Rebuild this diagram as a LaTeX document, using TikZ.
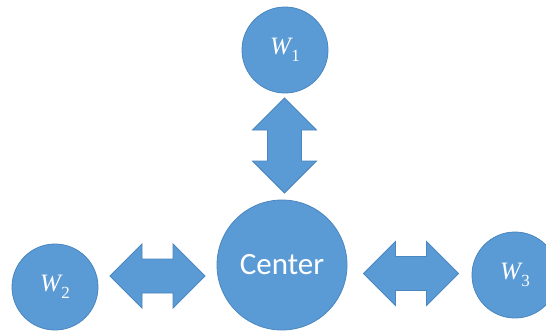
\documentclass[tikz,border=0pt]{standalone}
\usepackage{fontspec}
\setmainfont{Carlito}
\newfontfamily\mathlike{Liberation Serif}
\newcommand{\wlabel}[1]{{\mathlike\itshape W}\kern0.5pt\raisebox{-0.28em}{\mathlike\fontsize{17}{17}\selectfont #1}}
\begin{document}
\begin{tikzpicture}[x=1pt,y=-1pt,
  blobfill/.style={fill=blobblue,draw=blobedge,line width=0.8pt},
  bignode/.style={circle,blobfill,text=white,inner sep=0pt,minimum size=130pt,font=\fontsize{31}{31}\selectfont},
  smallnode/.style={circle,blobfill,text=white,inner sep=0pt,minimum size=86pt,font=\fontsize{25}{25}\selectfont},
  dblarrow/.pic={
    \path[blobfill] (-47.5,0) -- (-15.5,-32) -- (-15.5,-17) -- (15.5,-17) -- (15.5,-32)
      -- (47.5,0) -- (15.5,32) -- (15.5,17) -- (-15.5,17) -- (-15.5,32) -- cycle;
  }]
  \definecolor{blobblue}{HTML}{5B9BD5}
  \definecolor{blobedge}{HTML}{4A86BF}
  \useasboundingbox (0,0) rectangle (546,330);
  \fill[white] (0,0) rectangle (546,330);

  % worker and center nodes
  \node[bignode]   (center) at (282,265) {Center};
  \node[smallnode] (w1)     at (285,50)  {\wlabel{1}};
  \node[smallnode] (w2)     at (55,287)  {\wlabel{2}};
  \node[smallnode] (w3)     at (515,275) {\wlabel{3}};

  % two-way block arrows between the nodes
  \pic[rotate=90] at (284.5,145.5) {dblarrow};
  \pic at (157.5,276) {dblarrow};
  \pic at (411,273.5) {dblarrow};
\end{tikzpicture}
\end{document}
